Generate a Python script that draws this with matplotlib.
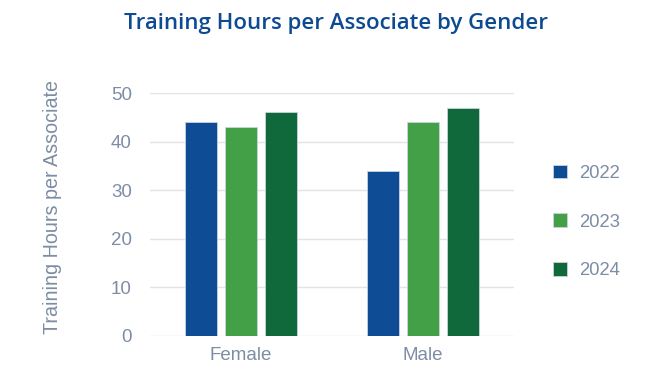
import numpy as np
import matplotlib
matplotlib.use('Agg')
import matplotlib.pyplot as plt
from matplotlib.patches import Patch

# Data
genders = ['Female', 'Male']
years = ['2022', '2023', '2024']
hours_2022 = [44, 34]
hours_2023 = [43, 44]
hours_2024 = [46, 47]
colors = ['#0e4c96', '#43a047', '#10693a']

label_color = '#7d8da3'
plt.rcParams['font.family'] = ['Liberation Sans', 'DejaVu Sans']

fig = plt.figure(figsize=(6.62, 3.72), dpi=100)
ax = fig.add_axes([0.2266, 0.0968, 0.55, 0.6532])

x = np.arange(len(genders))
width = 0.176
pitch = 0.22
series = [hours_2022, hours_2023, hours_2024]
for i, (vals, c) in enumerate(zip(series, colors)):
    ax.bar(x + (i - 1) * pitch, vals, width, color=c,
           edgecolor='#c9d3e0', linewidth=0.6, zorder=3)

ax.set_xlim(-0.5, 1.5)
ax.set_ylim(0, 50)
ax.set_yticks([0, 10, 20, 30, 40, 50])
ax.set_xticks(x)
ax.set_xticklabels(genders)
ax.grid(axis='y', color='#e3e3e3', linewidth=1, zorder=0)
for s in ax.spines.values():
    s.set_visible(False)
ax.tick_params(axis='both', length=0, colors=label_color, labelsize=13.5)
ax.tick_params(axis='y', pad=13)
ax.tick_params(axis='x', pad=8)
ax.set_ylabel('Training Hours per Associate', color=label_color, fontsize=14.2)
ax.yaxis.set_label_coords(-0.242, 0.529)

fig.text(0.508, 0.938, 'Training Hours per Associate by Gender',
         ha='center', va='center', fontsize=16, color='#0d4a91',
         family=['Open Sans', 'DejaVu Sans'], fontweight='semibold')

handles = [Patch(facecolor=c, edgecolor='#c9d3e0', linewidth=0.6) for c in colors]
leg = fig.legend(handles, years, loc='center left', bbox_to_anchor=(0.835, 0.403),
                 frameon=False, fontsize=13.3, labelspacing=1.7,
                 borderpad=0, borderaxespad=0,
                 handlelength=0.76, handleheight=0.76, handletextpad=0.65)
for t in leg.get_texts():
    t.set_color(label_color)

fig.savefig('out.png', dpi=100)
